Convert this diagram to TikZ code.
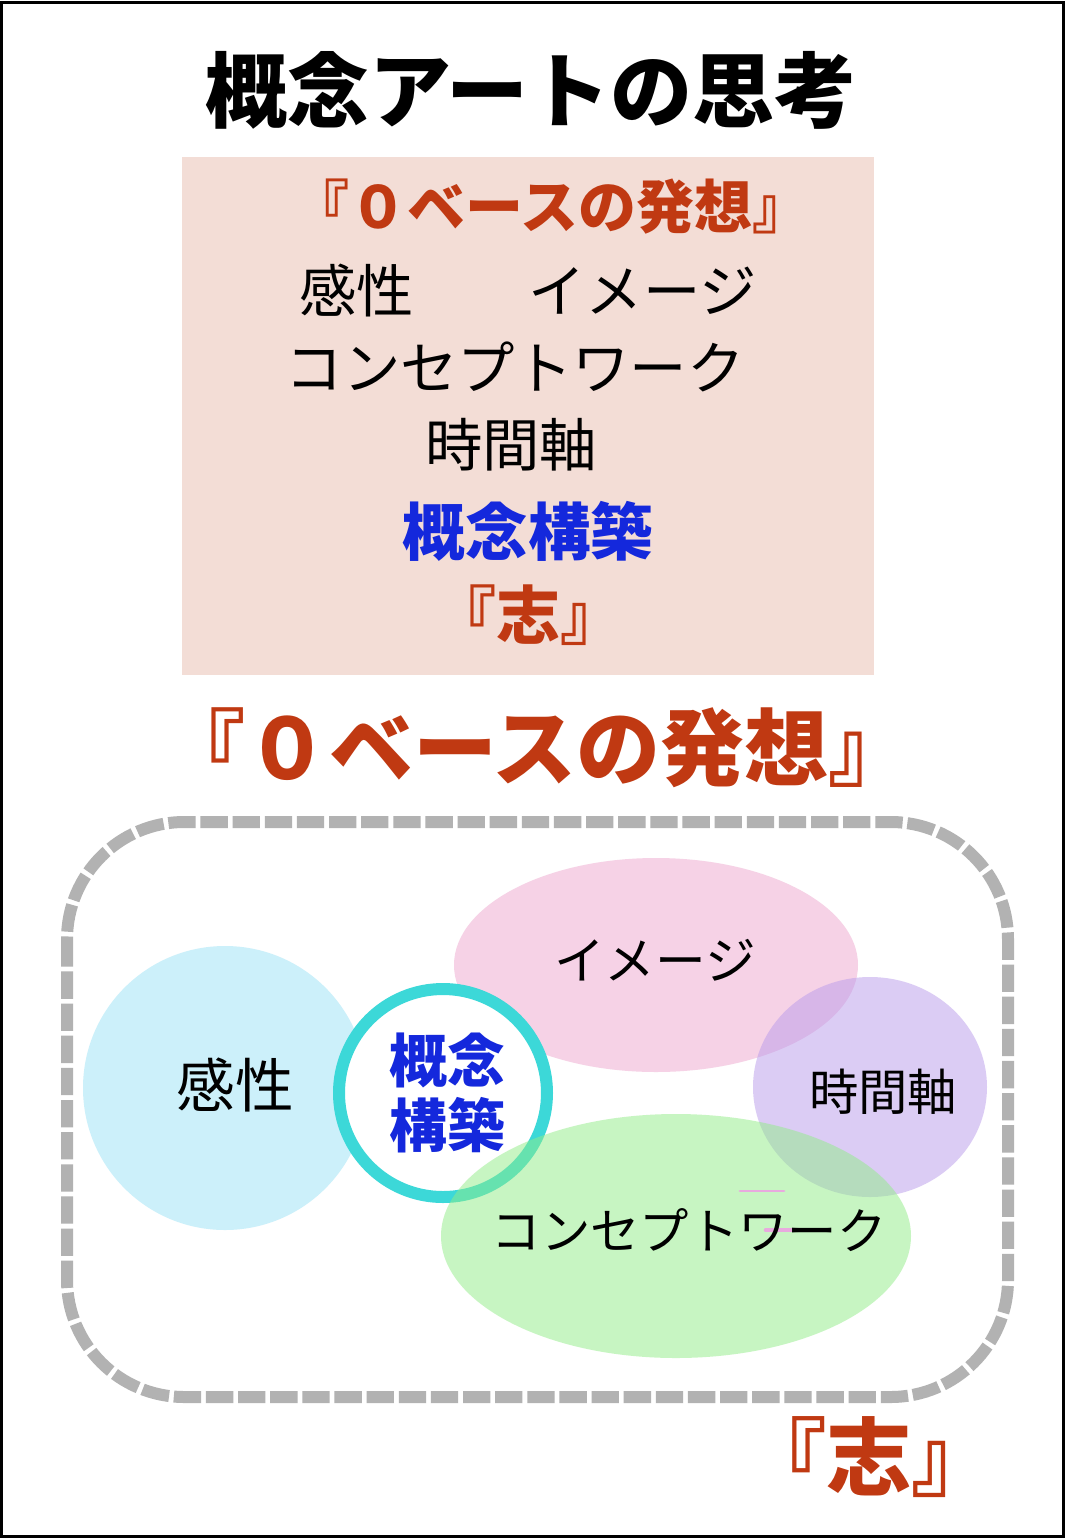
\documentclass[tikz,border=0pt]{standalone}
\usepackage{fontspec}
\setmainfont{Noto Sans CJK JP}
\definecolor{redc}{RGB}{192,57,18}
\definecolor{bluec}{RGB}{20,40,220}
\definecolor{boxc}{RGB}{243,221,214}
\definecolor{cyanc}{RGB}{204,240,250}
\definecolor{pinkc}{RGB}{246,210,230}
\definecolor{lavc}{RGB}{185,155,235}
\definecolor{greenc}{RGB}{145,237,135}
\definecolor{ringc}{RGB}{60,216,216}
\definecolor{grayc}{RGB}{178,178,178}
\definecolor{dotc}{RGB}{232,170,222}
\tikzset{
  txt/.style={inner sep=0pt, outer sep=0pt, anchor=center},
  fs/.style={font=\fontsize{#1}{#1}\selectfont},
  bfs/.style={font=\bfseries\fontsize{#1}{#1}\selectfont},
  bubble/.style={draw=none},
}
\begin{document}
\begin{tikzpicture}[x=0.75pt,y=-0.75pt]
\useasboundingbox (0,0) rectangle (1066,1539);
\fill[white] (0,0) rectangle (1066,1539);
% outer frame
\draw[line width=2.25pt] (1.5,2) rectangle (1063,1536.5);
% title
\node[txt,bfs=61.5pt] (title) at (531,90) {概念アートの思考};
% summary box
\fill[boxc] (182,157) rectangle (874,675);
\node[txt,bfs=43.5pt,text=redc] (boxhead) at (551,207) {『０ベースの発想』};
\node[txt,fs=43pt] (row1) at (528,291) {感性　　イメージ};
\node[txt,fs=43pt] (row2) at (515,367) {コンセプトワーク};
\node[txt,fs=43pt] (row3) at (511,445) {時間軸};
\node[txt,bfs=47pt,text=bluec] (row4) at (528,531) {概念構築};
\node[txt,bfs=48pt,text=redc] (row5) at (528,615) {『志』};
% big heading
\node[txt,bfs=63pt,text=redc] (bighead) at (537,748) {『０ベースの発想』};
% dashed frame
\draw[grayc, line width=9pt, dash pattern=on 20.5pt off 3.6pt, rounded corners=88pt]
  (67,822) rectangle (1008,1397);
% bubbles
\fill[cyanc] (225,1088) circle [radius=142];
\fill[pinkc] (656,965) ellipse [x radius=202, y radius=107];
\fill[lavc, fill opacity=0.5] (870,1087) ellipse [x radius=117, y radius=110];
\draw[ringc, fill=white, line width=9pt] (443,1093) circle [radius=104];
\fill[greenc, fill opacity=0.5] (676,1236) ellipse [x radius=235, y radius=122];
% small pink marks
\draw[dotc, line width=2.2pt, line cap=round] (740,1191) -- (784,1191);
\draw[dotc, line width=3.5pt, line cap=round] (766,1230) -- (798,1230);
% bubble labels
\node[txt,fs=44pt] (kansei) at (235,1085) {感性};
\node[txt,fs=38pt] (image) at (655,960) {イメージ};
\node[txt,fs=37pt] (jikan) at (883,1092) {時間軸};
\node[txt,fs=37pt] (concept) at (689,1230) {コンセプトワーク};
\node[txt,bfs=43.5pt,text=bluec] (gainen1) at (447,1060) {概念};
\node[txt,bfs=43.5pt,text=bluec] (gainen2) at (447,1125) {構築};
% bottom
\node[txt,bfs=64pt,text=redc] (kokoro) at (869,1457) {『志』};
\end{tikzpicture}
\end{document}
